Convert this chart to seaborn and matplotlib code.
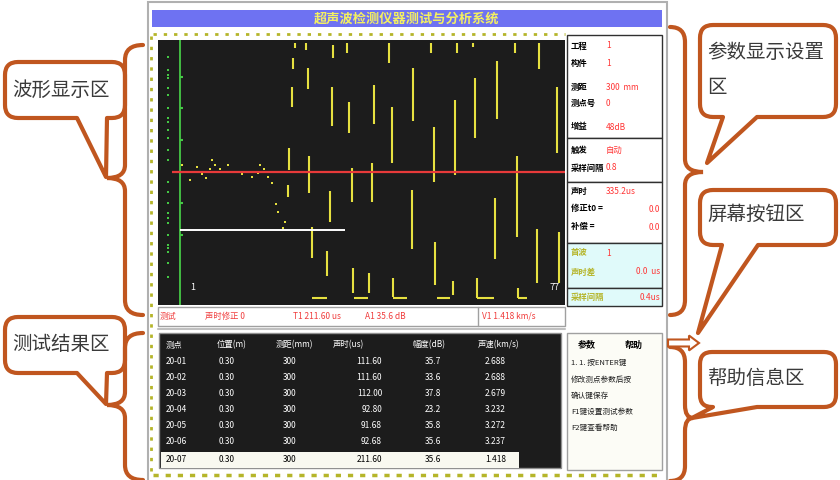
import matplotlib.pyplot as plt
import numpy as np
import pandas as pd
import seaborn as sns
from matplotlib.patches import Rectangle, PathPatch, FancyArrow
from matplotlib.path import Path

# ---- waveform data (sample index, amplitude) ----
seg_x = [137, 148, 175, 189, 231, 273, 299, 315, 357, 381, 135, 150, 134, 174, 191, 216,
         234, 255, 276, 297, 317, 339, 399, 131, 151, 194, 214, 359, 130, 172, 154, 169,
         254, 337, 379, 401, 195, 211, 277, 295, 235, 319, 360]
seg_top = [129, 129, 127, 129, 129, 129, 129, 129, 129, 129, 114, 104, 85, 85, 70, 87,
           65, 104, 45, 72, 94, 111, 85, 24, 16, 4, 9, 16, -13, -19, -55, -79,
           -18, -26, -57, -60, -96, -101, -70, -109, -106, -106, -116]
seg_bottom = [124, 122, 114, 119, 109, 119, 119, 125, 119, 103, 103, 83, 65, 46, 39, 48,
              9, 51, -10, -3, 34, 53, 19, 2, -21, -30, -30, -65, -25, -50, -86, -104,
              -77, -87, -111, -111, -121, -121, -113, -123, -125, -126, -126]
base_start = [154, 196, 235, 279, 319, 360]
base_end = [169, 210, 249, 292, 336, 369]
noise_x = [24, 32, 39, 44, 48, 52, 54, 57, 62, 70, 77, 84, 94, 100, 102, 106, 110, 114,
           118, 120, 125, 127]
noise_y = [7, -8, 5, -2, -6, 3, 12, 7, 3, 7, 0, -2, -5, -1, 7, 3, -5, -11, -32, -40, -56, -50]
scale_y = [115, 102, 97, 94, 84, 77, 64, 54, 50, 42, 34, 22, 12, -10, -20, -31, -41,
           -46, -51, -63, -73, -76, -80, -91, -105]
tick_y = [95, 64, 32, 0, -31, -63]
threshold = 0
gate_level = -58

# ---- test results ----
point_ids = ["20-01", "20-02", "20-03", "20-04", "20-05", "20-06", "20-07"]
positions = ["0.30"] * 7
distances = ["300"] * 7
times = ["111.60", "111.60", "112.00", "92.80", "91.68", "92.68", "211.60"]
amps = ["35.7", "33.6", "37.8", "23.2", "35.8", "35.6", "35.6"]
speeds = ["2.688", "2.688", "2.679", "3.232", "3.272", "3.237", "1.418"]
headers = ["测点", "位置(m)", "测距(mm)", "声时(us)", "幅度(dB)", "声速(km/s)"]

# ---- parameter panel ----
param_labels = ["工程", "构件", "测距", "测点号", "增益", "触发", "采样间隔",
                "声时", "修正t0 =", "补偿 =", "首波", "声时差", "采样间隔"]
param_values = ["1", "1", "300  mm", "0", "48dB", "自动", "0.8",
                "335.2us", "0.0", "0.0", "1", "0.0  us", "0.4us"]
status_items = ["测试", "声时修正 0", "T1 211.60 us", "A1 35.6 dB", "V1 1.418 km/s"]
help_lines = ["1. 1. 按ENTER键", "修改测点参数后按", "确认键保存", "F1键设置测试参数",
              "F2键查看帮助"]

sns.set_theme(style="white")
plt.rcParams['font.family'] = ['Noto Sans CJK SC', 'DejaVu Sans']

orange = '#c0561f'
yellow = '#e6e040'
olive = '#b5b52a'

fig = plt.figure(figsize=(8.4, 4.8), dpi=100)
ax = fig.add_axes([0, 0, 1, 1])
ax.set_xlim(0, 840)
ax.set_ylim(480, 0)
ax.axis('off')

# screenshot frame
ax.add_patch(Rectangle((148, 2), 519, 480, fc='white', ec='#b0b0b0', lw=1.5))
ax.add_patch(Rectangle((152, 10), 510, 17, fc='#6e72f2', ec='none'))
ax.text(407, 18.5, "超声波检测仪器测试与分析系统", color='#f4f060', fontsize=9.5,
        fontweight='bold', ha='center', va='center')
ax.plot([153, 565], [34, 34], color=olive, lw=2, dashes=(1.2, 2.5))
ax.plot([151, 151], [36, 474], color=olive, lw=2, dashes=(1.2, 2.5))
ax.plot([153, 663], [475, 475], color=olive, lw=2.5, dashes=(1.5, 2))

# status bar
ax.add_patch(Rectangle((158, 307), 407, 19, fc='white', ec='#a0a0a0', lw=1))
ax.plot([478, 478], [307, 326], color='#a0a0a0', lw=1)
ax.plot([158, 565], [329, 329], color='#c0c0c0', lw=1.5)
for txt, xp in zip(status_items, [160, 205, 293, 365, 482]):
    ax.text(xp, 316.5, txt, color='#f03c3c', fontsize=6, va='center')

# results table
ax.add_patch(Rectangle((159, 333), 402, 135, fc='#1c1c1c', ec='#909090', lw=1))
ax.add_patch(Rectangle((161, 452), 358, 16, fc='#f8f8f0', ec='none'))
col_x = [166, 217, 276, 333, 412, 478]
for h, xp in zip(headers, col_x):
    ax.text(xp, 345, h, color='white', fontsize=6, va='center')
row_y = [362, 378, 394, 410, 425, 441, 460]
for i, yp in enumerate(row_y):
    c = 'black' if i == len(row_y) - 1 else 'white'
    ax.text(166, yp, point_ids[i], color=c, fontsize=6, va='center')
    ax.text(219, yp, positions[i], color=c, fontsize=6, va='center')
    ax.text(283, yp, distances[i], color=c, fontsize=6, va='center')
    ax.text(382, yp, times[i], color=c, fontsize=6, va='center', ha='right')
    ax.text(425, yp, amps[i], color=c, fontsize=6, va='center')
    ax.text(485, yp, speeds[i], color=c, fontsize=6, va='center')

# parameter panel
sections = [(35, 138, 'white'), (138, 182, 'white'), (182, 243, 'white'),
            (243, 288, '#e0fafa'), (288, 306, '#e0fafa')]
for y0, y1, fc in sections:
    ax.add_patch(Rectangle((567, y0), 95, y1 - y0, fc=fc, ec='#303030', lw=1))
param_y = [46, 63, 87, 103, 127, 150, 168, 191, 209, 227, 253, 272, 297]
for i, (lab, val) in enumerate(zip(param_labels, param_values)):
    lc = olive if i >= 10 else 'black'
    ax.text(571, param_y[i], lab, color=lc, fontsize=6, va='center', fontweight='bold')
    ax.text(660 if i in (8, 9, 11, 12) else 606, param_y[i], val, color='#ff3535',
            fontsize=6, va='center', ha='right' if i in (8, 9, 11, 12) else 'left')

# help panel
ax.add_patch(Rectangle((567, 333), 95, 137, fc='#fcfcf6', ec='#a0a0a0', lw=1))
ax.text(578, 345, "参数", fontsize=6.5, fontweight='bold', va='center', color='black')
ax.text(625, 345, "帮助", fontsize=6.5, fontweight='bold', va='center', color='black')
for yp, txt in zip([363, 380, 396, 412, 428], help_lines):
    ax.text(571, yp, txt, fontsize=5.5, va='center', color='#202020')


# ---- callouts ----
def callout(x0, y0, x1, y1, ta, tip, tb, r=13):
    verts = [(x0 + r, y0), (x1 - r, y0), (x1, y0), (x1, y0 + r), (x1, y1 - r),
             (x1, y1), (x1 - r, y1), (tb, y1), tip, (ta, y1), (x0 + r, y1),
             (x0, y1), (x0, y1 - r), (x0, y0 + r), (x0, y0), (x0 + r, y0), (x0 + r, y0)]
    codes = [Path.MOVETO, Path.LINETO, Path.CURVE3, Path.CURVE3, Path.LINETO,
             Path.CURVE3, Path.CURVE3, Path.LINETO, Path.LINETO, Path.LINETO, Path.LINETO,
             Path.CURVE3, Path.CURVE3, Path.LINETO, Path.CURVE3, Path.CURVE3, Path.CLOSEPOLY]
    ax.add_patch(PathPatch(Path(verts, codes), fc='white', ec=orange, lw=3,
                           joinstyle='round', zorder=3))


def brace(xe, xs, ytop, ymid, ybot, xp):
    # xe: end x, xs: spine x, xp: point x
    verts = [(xe, ytop), (xs, ytop), (xs, ytop + 15), (xs, ymid - 13), (xs, ymid), (xp, ymid),
             (xs, ymid), (xs, ymid + 13), (xs, ybot - 15), (xs, ybot), (xe, ybot)]
    codes = [Path.MOVETO, Path.CURVE3, Path.CURVE3, Path.LINETO, Path.CURVE3, Path.CURVE3,
             Path.CURVE3, Path.CURVE3, Path.LINETO, Path.CURVE3, Path.CURVE3]
    ax.add_patch(PathPatch(Path(verts, codes), fc='none', ec=orange, lw=3,
                           capstyle='round', zorder=4))


brace(143, 125, 45, 178, 315, 107)
brace(143, 125, 333, 405, 480, 107)
brace(670, 685, 27, 172, 315, 703)
brace(670, 685, 347, 418, 481, 693)

callout(5, 62, 125, 118, 77, (106, 177), 107)
callout(5, 317, 125, 373, 77, (106, 404), 107)
callout(700, 25, 836, 117, 723, (707, 163), 757)
callout(700, 190, 836, 245, 722, (698, 333), 758)
callout(700, 352, 836, 407, 713, (692, 418), 757, r=12)

txt_kw = dict(fontsize=14, color='#3a3a3a', va='center', zorder=5, fontweight='light')
ax.text(12, 90, "波形显示区", **txt_kw)
ax.text(12, 345, "测试结果区", **txt_kw)
ax.text(707, 53, "参数显示设置", **txt_kw)
ax.text(707, 88, "区", **txt_kw)
ax.text(707, 214, "屏幕按钮区", **txt_kw)
ax.text(707, 378, "帮助信息区", **txt_kw)

ax.add_patch(FancyArrow(668, 343, 31, 0, width=7, head_width=15, head_length=10,
                        length_includes_head=True, fc='white', ec=orange, lw=1.5, zorder=4))

# ---- waveform panel ----
axw = fig.add_axes([158 / 840, 1 - 305 / 480, 407 / 840, 265 / 480])
axw.set_facecolor('#1c1c1c')
axw.set_xlim(0, 407)
axw.set_ylim(-133, 132)
axw.set_xticks([])
axw.set_yticks([])
for s in axw.spines.values():
    s.set_visible(False)

axw.vlines(seg_x, seg_bottom, seg_top, color=yellow, lw=1.5)
axw.hlines([-126] * len(base_start), base_start, base_end, color=yellow, lw=1.5)
noise = pd.DataFrame({'x': noise_x, 'y': noise_y})
sns.scatterplot(data=noise, x='x', y='y', ax=axw, color=yellow, marker='s', s=2.5,
                edgecolor='none')
axw.axvline(22, color='#45c845', lw=1.3)
axw.hlines(tick_y, 22, 25, color='#45c845', lw=1.5)
scale = pd.DataFrame({'x': [10] * len(scale_y), 'y': scale_y})
sns.scatterplot(data=scale, x='x', y='y', ax=axw, color='#45c845', marker='s', s=3,
                edgecolor='none')
axw.hlines(threshold, 14, 407, color='#e83a3a', lw=1.6)
axw.hlines(gate_level, 22, 187, color='white', lw=1.4)
axw.text(32, -115, "1", color='white', fontsize=6.5, va='center')
axw.text(392, -115, "77", color='white', fontsize=6.5, va='center')
axw.set_xlabel('')
axw.set_ylabel('')

fig.savefig('out.png', dpi=100)
